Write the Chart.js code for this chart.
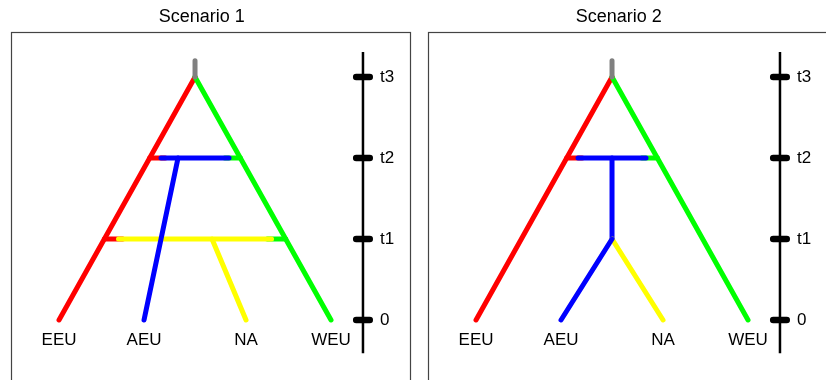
<!DOCTYPE html>
<html>
<head>
<meta charset="utf-8">
<script src="https://cdn.jsdelivr.net/npm/chart.js@4/dist/chart.umd.min.js"></script>
<style>
  html, body { margin: 0; padding: 0; background: #fff; width: 826px; height: 380px; overflow: hidden; }
  #wrap { position: relative; width: 826px; height: 380px; overflow: hidden; }
  canvas { position: absolute; top: 0; }
  #c1 { left: 0; }
  #c2 { left: 417px; }
</style>
</head>
<body>
<div id="wrap">
  <canvas id="c1" width="413" height="400"></canvas>
  <canvas id="c2" width="413" height="400"></canvas>
</div>
<script>
// Time points of the model (present = 0) and their axis labels
const times = [0, 1, 2, 3];
const timeLabels = ['0', 't1', 't2', 't3'];

// Sampled populations and their order along the bottom
const tips = ['EEU', 'AEU', 'NA', 'WEU'];
const tipPos = [0, 1, 2.2, 3.2];
const tipColors = ['#ff0000', '#0000ff', '#ffff00', '#00ff00'];

// Ancestral stub above the root split
const rootTop = 3.2;

// Scenario 1: AEU formed by admixture at t2, NA by admixture at t1
const s1AeuBar = [1.2, 2.0];
const s1AeuFrom = 1.4;
const s1NaBar = [0.7, 2.5];
const s1NaFrom = 1.8;

// Scenario 2: one admixed lineage at t2 that splits into AEU and NA at t1
const s2Bar = [1.2, 2.0];
const s2Stem = 1.6;

const FONT = '"Liberation Sans", Arial, Helvetica, sans-serif';
const AXIS_X = 3.576;      // position of the time axis on the x scale
const TICK_HALF = 0.08;
const LABEL_X = 3.776;     // left edge of the time labels
const TIP_LABEL_Y = -0.245; // tip names sit just below the present
const TITLE_X = 1.68;
const LINE_W = 5;

const tRoot = times[3];
const rootX = (tipPos[0] + tipPos[3]) / 2;
// x of the EEU (left) and WEU (right) branches at time t
const leftX = t => tipPos[0] + (rootX - tipPos[0]) * t / tRoot;
const rightX = t => tipPos[3] + (rootX - tipPos[3]) * t / tRoot;

function seg(points, color, width, cap) {
  return {
    data: points.map(([x, y]) => ({ x, y })),
    showLine: true,
    borderColor: color,
    backgroundColor: color,
    borderWidth: width || LINE_W,
    borderCapStyle: cap || 'round',
    borderJoinStyle: 'round',
    pointRadius: 0,
    pointHoverRadius: 0,
    fill: false,
    tension: 0
  };
}

// Admixture bar at time t: short EEU / WEU coloured stubs joining the
// outer branches, with the admixed lineage's bar laid over them
function admixBar(t, bar, color) {
  return [
    seg([[leftX(t), t], [bar[0] + 0.05, t]], tipColors[0]),
    seg([[bar[1] - 0.05, t], [rightX(t), t]], tipColors[3]),
    seg([[bar[0], t], [bar[1], t]], color)
  ];
}

function trunk() {
  return [
    seg([[rootX, tRoot], [tipPos[0], 0]], tipColors[0]),
    seg([[rootX, tRoot], [tipPos[3], 0]], tipColors[3])
  ];
}

function timeAxis() {
  const out = [seg([[AXIS_X, -0.41], [AXIS_X, 3.31]], '#000', 2.5, 'butt')];
  times.forEach(t => out.push(seg([[AXIS_X - TICK_HALF, t], [AXIS_X + TICK_HALF, t]], '#000', 6.5)));
  return out;
}

const scenario1 = [
  ...trunk(),
  ...admixBar(times[2], s1AeuBar, tipColors[1]),
  ...admixBar(times[1], s1NaBar, tipColors[2]),
  seg([[s1NaFrom, times[1]], [tipPos[2], 0]], tipColors[2]),
  seg([[s1AeuFrom, times[2]], [tipPos[1], 0]], tipColors[1]),
  seg([[rootX, tRoot], [rootX, rootTop]], '#808080'),
  ...timeAxis()
];

const scenario2 = [
  ...trunk(),
  ...admixBar(times[2], s2Bar, tipColors[1]),
  seg([[s2Stem, times[2]], [s2Stem, times[1]]], tipColors[1]),
  seg([[s2Stem, times[1]], [tipPos[2], 0]], tipColors[2]),
  seg([[s2Stem, times[1]], [tipPos[1], 0]], tipColors[1]),
  seg([[rootX, tRoot], [rootX, rootTop]], '#808080'),
  ...timeAxis()
];

// Panel title, plot frame, tip names and time labels
const panelDecor = {
  id: 'panelDecor',
  beforeDatasetsDraw(chart) {
    const { ctx, chartArea: a } = chart;
    ctx.save();
    ctx.strokeStyle = '#444';
    ctx.lineWidth = 1.2;
    ctx.strokeRect(Math.round(a.left) + 0.5, Math.round(a.top) + 0.5,
                   Math.round(a.right - a.left) - 1, Math.round(a.bottom - a.top) - 1);
    ctx.restore();
  },
  afterDatasetsDraw(chart) {
    const { ctx, scales: { x, y } } = chart;
    const title = chart.options.plugins.panelDecor.title;
    ctx.save();
    ctx.fillStyle = '#000';
    ctx.textBaseline = 'middle';
    ctx.textAlign = 'center';
    ctx.font = '18px ' + FONT;
    ctx.fillText(title, x.getPixelForValue(TITLE_X), 17.5);
    ctx.font = '17px ' + FONT;
    tips.forEach((name, i) => {
      ctx.fillText(name, x.getPixelForValue(tipPos[i]), y.getPixelForValue(TIP_LABEL_Y));
    });
    ctx.textAlign = 'left';
    times.forEach((t, i) => {
      ctx.fillText(timeLabels[i], x.getPixelForValue(LABEL_X), y.getPixelForValue(t));
    });
    ctx.restore();
  }
};

function makeChart(id, title, datasets) {
  datasets.forEach((d, i) => { d.order = datasets.length - i; });
  return new Chart(document.getElementById(id), {
    type: 'scatter',
    data: { datasets },
    options: {
      responsive: false,
      animation: false,
      events: [],
      layout: { padding: { left: 11, right: 2, top: 32, bottom: 12 } },
      scales: {
        x: { type: 'linear', min: -0.565, max: 4.141, display: false },
        y: { type: 'linear', min: -0.84, max: 3.556, display: false }
      },
      plugins: {
        legend: { display: false },
        tooltip: { enabled: false },
        title: { display: false },
        panelDecor: { title }
      }
    },
    plugins: [panelDecor]
  });
}

makeChart('c1', 'Scenario 1', scenario1);
makeChart('c2', 'Scenario 2', scenario2);
</script>
</body>
</html>
